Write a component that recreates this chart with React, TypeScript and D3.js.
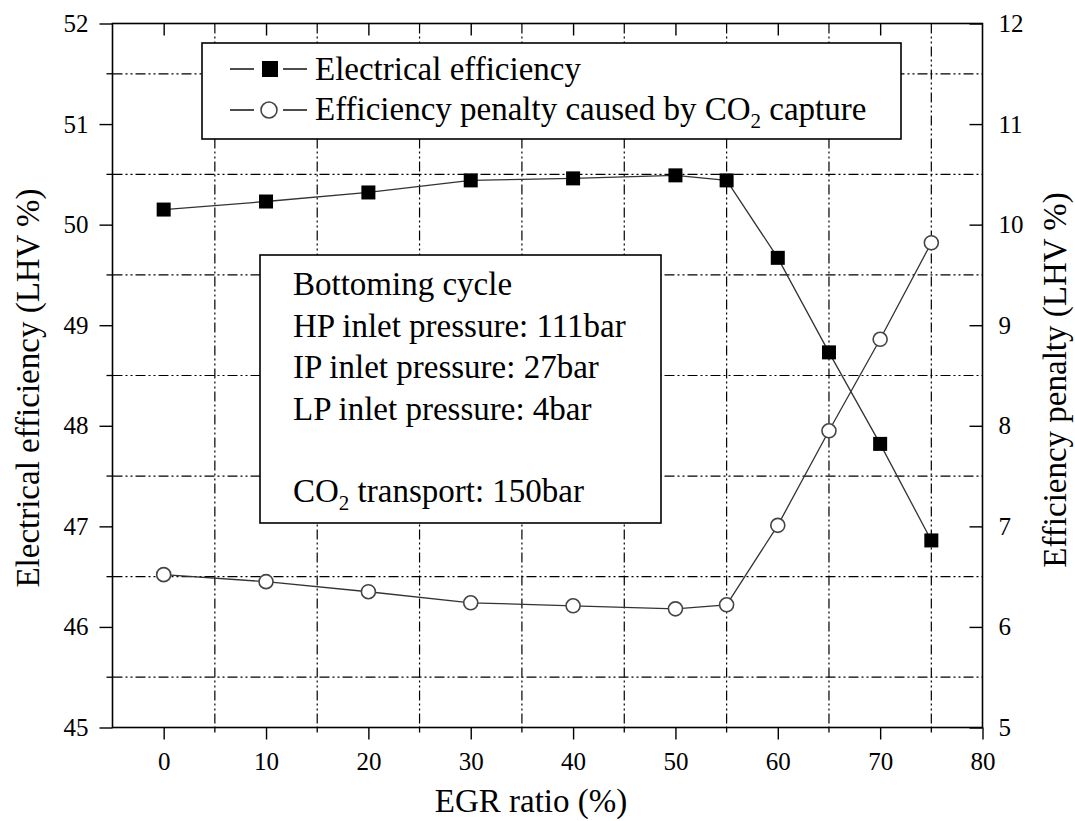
import * as d3 from "d3";
import React from "react";

// EGR ratio (%) on x
const egrRatio = [0, 10, 20, 30, 40, 50, 55, 60, 65, 70, 75];
// left axis: electrical efficiency (LHV %)
const electricalEfficiency = [50.15, 50.23, 50.32, 50.44, 50.46, 50.49, 50.44, 49.67, 48.73, 47.82, 46.86];
// right axis: efficiency penalty (LHV %)
const efficiencyPenalty = [6.52, 6.45, 6.35, 6.24, 6.21, 6.18, 6.22, 7.01, 7.95, 8.86, 9.82];

const xTicks = [0, 10, 20, 30, 40, 50, 60, 70, 80];
const leftTicks = [45, 46, 47, 48, 49, 50, 51, 52];
const rightTicks = [5, 6, 7, 8, 9, 10, 11, 12];
const xGrid = [5, 15, 25, 35, 45, 55, 65, 75];
const yGrid = [45.5, 46.5, 47.5, 48.5, 49.5, 50.5, 51.5];

const legendLabels = ["Electrical efficiency", "Efficiency penalty caused by CO", " capture"];
const noteLines = ["Bottoming cycle", "HP inlet pressure: 111bar", "IP inlet pressure: 27bar", "LP inlet pressure: 4bar"];

const FONT = "'Liberation Serif', 'Times New Roman', serif";
const GRID_DASH = "10,3,2,3,2,3";

const App = () => {
    const ref = React.useRef<SVGSVGElement>(null);

    React.useEffect(() => {
        const svg = d3.select(ref.current);
        svg.selectAll("*").remove();

        const left = 112.5, right = 982.5, top = 23.5, bottom = 727.5;
        const x = d3.scaleLinear().domain([-5, 80]).range([left, right]);
        const yL = d3.scaleLinear().domain([45, 52]).range([bottom, top]);
        const yR = d3.scaleLinear().domain([5, 12]).range([bottom, top]);
        const fmt = d3.format("d");

        svg.append("rect")
            .attr("width", 1075).attr("height", 821).attr("fill", "white");

        // grid (dash-dot-dot)
        const grid = svg.append("g").attr("stroke", "#000").attr("stroke-width", 1.2)
            .attr("stroke-dasharray", GRID_DASH).attr("fill", "none");
        grid.selectAll(".gx").data(xGrid).enter().append("line")
            .attr("x1", d => x(d)).attr("x2", d => x(d))
            .attr("y1", top).attr("y2", bottom);
        grid.selectAll(".gy").data(yGrid).enter().append("line")
            .attr("x1", left).attr("x2", right)
            .attr("y1", d => yL(d)).attr("y2", d => yL(d));

        // minor ticks (outward on left and bottom)
        const minor = svg.append("g").attr("stroke", "#000").attr("stroke-width", 1.3);
        minor.selectAll(".mx").data(xGrid).enter().append("line")
            .attr("x1", d => x(d)).attr("x2", d => x(d))
            .attr("y1", bottom).attr("y2", bottom + 5);
        minor.selectAll(".my").data(yGrid).enter().append("line")
            .attr("x1", left - 6).attr("x2", left)
            .attr("y1", d => yL(d)).attr("y2", d => yL(d));

        // axes
        const styleAxis = (g) => {
            g.select(".domain").remove();
            g.selectAll(".tick line").attr("stroke", "#000").attr("stroke-width", 1.4);
            g.selectAll(".tick text").attr("fill", "#000")
                .style("font-family", FONT).style("font-size", "25px");
        };
        svg.append("g").attr("transform", `translate(0,${bottom})`)
            .call(d3.axisBottom(x).tickValues(xTicks).tickFormat(fmt).tickSize(12).tickPadding(13))
            .call(styleAxis);
        svg.append("g").attr("transform", `translate(0,${top})`)
            .call(d3.axisBottom(x).tickValues(xTicks.slice(0, -1)).tickSize(12).tickFormat(() => ""))
            .call(styleAxis);
        svg.append("g").attr("transform", `translate(${left},0)`)
            .call(d3.axisLeft(yL).tickValues(leftTicks).tickFormat(fmt).tickSize(13).tickPadding(11))
            .call(styleAxis);
        svg.append("g").attr("transform", `translate(${right},0)`)
            .call(d3.axisRight(yR).tickValues(rightTicks).tickFormat(fmt).tickSize(-13).tickPadding(16))
            .call(styleAxis);

        // frame
        svg.append("rect")
            .attr("x", left).attr("y", top)
            .attr("width", right - left).attr("height", bottom - top)
            .attr("fill", "none").attr("stroke", "#000").attr("stroke-width", 1.6);

        // axis titles
        svg.append("text")
            .attr("x", 531).attr("y", 812)
            .attr("text-anchor", "middle")
            .style("font-family", FONT).style("font-size", "33px")
            .text("EGR ratio (%)");
        svg.append("text")
            .attr("transform", "translate(39,388) rotate(-90)")
            .attr("text-anchor", "middle")
            .style("font-family", FONT).style("font-size", "33px")
            .text("Electrical efficiency (LHV %)");
        svg.append("text")
            .attr("transform", "translate(1066,380) rotate(-90)")
            .attr("text-anchor", "middle")
            .style("font-family", FONT).style("font-size", "33px")
            .text("Efficiency penalty (LHV %)");

        // legend box
        svg.append("rect")
            .attr("x", 202).attr("y", 43).attr("width", 699).attr("height", 96)
            .attr("fill", "white").attr("stroke", "#000").attr("stroke-width", 1.6);

        // note box
        svg.append("rect")
            .attr("x", 260).attr("y", 255).attr("width", 401).attr("height", 268)
            .attr("fill", "white").attr("stroke", "#000").attr("stroke-width", 1.6);

        const note = svg.append("g").style("font-family", FONT).style("font-size", "33px");
        const noteBase = [295, 337, 378, 420];
        note.selectAll(".n").data(noteLines).enter().append("text")
            .attr("x", 293).attr("y", (d, i) => noteBase[i]).text(d => d);
        const co2 = note.append("text").attr("x", 293).attr("y", 502);
        co2.append("tspan").text("CO");
        co2.append("tspan").attr("dy", 8).style("font-size", "21px").text("2");
        co2.append("tspan").attr("dy", -8).text(" transport: 150bar");

        // data lines
        const lineL = d3.line<number>().x((d, i) => x(egrRatio[i])).y(d => yL(d));
        const lineR = d3.line<number>().x((d, i) => x(egrRatio[i])).y(d => yR(d));
        svg.append("path").attr("d", lineL(electricalEfficiency))
            .attr("fill", "none").attr("stroke", "#333").attr("stroke-width", 1.3);
        svg.append("path").attr("d", lineR(efficiencyPenalty))
            .attr("fill", "none").attr("stroke", "#333").attr("stroke-width", 1.3);

        svg.append("g").selectAll("rect").data(electricalEfficiency).enter().append("rect")
            .attr("x", (d, i) => x(egrRatio[i]) - 7).attr("y", d => yL(d) - 7)
            .attr("width", 14).attr("height", 14).attr("fill", "#000");
        svg.append("g").selectAll("circle").data(efficiencyPenalty).enter().append("circle")
            .attr("cx", (d, i) => x(egrRatio[i])).attr("cy", d => yR(d))
            .attr("r", 7).attr("fill", "white").attr("stroke", "#444").attr("stroke-width", 1.6);

        // legend entries
        const leg = svg.append("g");
        [69, 110].forEach(cy => {
            leg.append("line").attr("x1", 230).attr("x2", 254).attr("y1", cy).attr("y2", cy)
                .attr("stroke", "#000").attr("stroke-width", 1.4);
            leg.append("line").attr("x1", 283).attr("x2", 307).attr("y1", cy).attr("y2", cy)
                .attr("stroke", "#000").attr("stroke-width", 1.4);
        });
        leg.append("rect").attr("x", 262).attr("y", 61).attr("width", 16).attr("height", 16).attr("fill", "#000");
        leg.append("circle").attr("cx", 269).attr("cy", 110).attr("r", 8)
            .attr("fill", "white").attr("stroke", "#444").attr("stroke-width", 1.6);
        const legText = leg.append("g").style("font-family", FONT).style("font-size", "33px");
        legText.append("text").attr("x", 315).attr("y", 80).text(legendLabels[0]);
        const t2 = legText.append("text").attr("x", 315).attr("y", 120);
        t2.append("tspan").text(legendLabels[1]);
        t2.append("tspan").attr("dy", 8).style("font-size", "21px").text("2");
        t2.append("tspan").attr("dy", -8).text(legendLabels[2]);
    }, []);

    return (
        <svg
            ref={ref}
            width={1075}
            height={821}
            style={{ position: "absolute", left: 0, top: 0 }}
        />
    );
};

export default App;
